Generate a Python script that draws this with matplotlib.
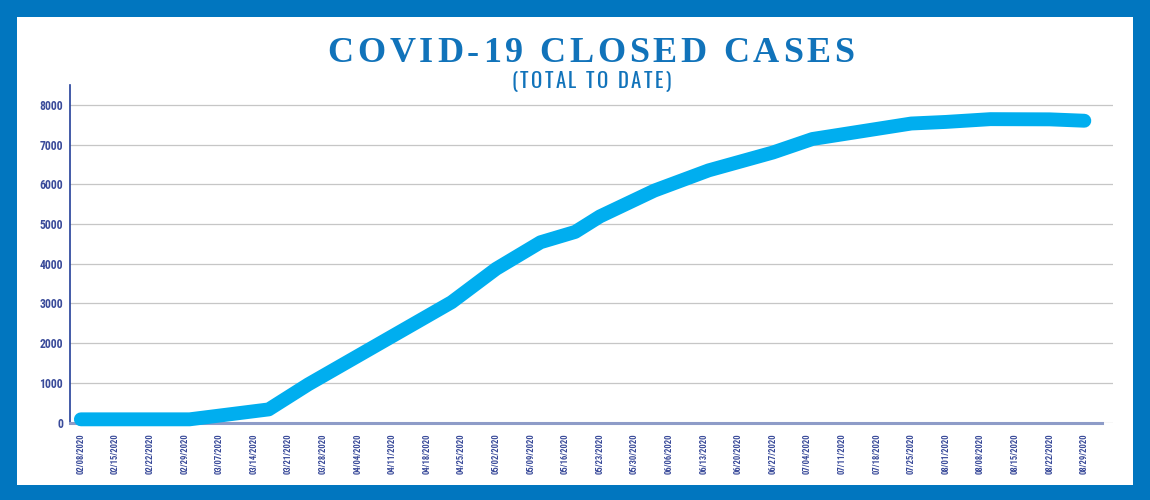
import matplotlib
matplotlib.use("Agg")
import matplotlib.pyplot as plt
import matplotlib.dates as mdates
from matplotlib.patches import Rectangle
import pandas as pd

# ---------------- data ----------------
title = "COVID-19 CLOSED CASES"
subtitle = "(TOTAL TO DATE)"

point_dates = ["2020-02-08", "2020-03-01", "2020-03-17", "2020-03-25", "2020-04-23",
               "2020-05-02", "2020-05-11", "2020-05-18", "2020-05-23", "2020-06-03",
               "2020-06-14", "2020-06-27", "2020-07-05", "2020-07-25", "2020-08-01",
               "2020-08-10", "2020-08-22", "2020-08-29"]
closed_cases = [80, 80, 330, 960, 3030,
                3870, 4540, 4800, 5190, 5840,
                6350, 6800, 7140, 7530, 7570,
                7640, 7635, 7600]

tick_dates = ["2020-02-08", "2020-02-15", "2020-02-22", "2020-02-29", "2020-03-07",
              "2020-03-14", "2020-03-21", "2020-03-28", "2020-04-04", "2020-04-11",
              "2020-04-18", "2020-04-25", "2020-05-02", "2020-05-09", "2020-05-16",
              "2020-05-23", "2020-05-30", "2020-06-06", "2020-06-13", "2020-06-20",
              "2020-06-27", "2020-07-04", "2020-07-11", "2020-07-18", "2020-07-25",
              "2020-08-01", "2020-08-08", "2020-08-15", "2020-08-22", "2020-08-29"]
tick_labels = ["02/08/2020", "02/15/2020", "02/22/2020", "02/29/2020", "03/07/2020",
               "03/14/2020", "03/21/2020", "03/28/2020", "04/04/2020", "04/11/2020",
               "04/18/2020", "04/25/2020", "05/02/2020", "05/09/2020", "05/16/2020",
               "05/23/2020", "05/30/2020", "06/06/2020", "06/13/2020", "06/20/2020",
               "06/27/2020", "07/04/2020", "07/11/2020", "07/18/2020", "07/25/2020",
               "08/01/2020", "08/08/2020", "08/15/2020", "08/22/2020", "08/29/2020"]
y_ticks = [0, 1000, 2000, 3000, 4000, 5000, 6000, 7000, 8000]

# ---------------- style ----------------
BORDER = "#0176BF"
LINE = "#00AEEF"
TITLE_C = "#1173BA"
TICK_C = "#3A4B9A"
TICKFONT = ["Roboto Condensed", "DejaVu Sans"]
SUBFONT = ["Oswald", "Roboto Condensed", "DejaVu Sans"]
SERIF = ["Liberation Serif", "DejaVu Serif"]
W, H = 1150, 500

fig = plt.figure(figsize=(W / 100, H / 100), dpi=100, facecolor=BORDER)
fig.patches.append(Rectangle((16.7 / W, 14.6 / H), 1116.6 / W, 468.7 / H,
                             transform=fig.transFigure, facecolor="white",
                             edgecolor="none", zorder=-10))

ax = fig.add_axes([70 / W, 77.5 / H, 1043 / W, 337.5 / H])
ax.set_facecolor("none")

xd = mdates.date2num(pd.to_datetime(point_dates))
xt = mdates.date2num(pd.to_datetime(tick_dates))
x0 = xt[0]

ax.plot(xd, closed_cases, color=LINE, lw=10, solid_capstyle="round",
        solid_joinstyle="round", zorder=4, clip_on=False)

ax.set_xlim(x0 - 2.2, x0 + 208.8)
ax.set_ylim(0, 8500)
ax.set_yticks(y_ticks)
ax.set_yticklabels([str(v) for v in y_ticks])
ax.set_xticks(xt)
ax.set_xticklabels(tick_labels, rotation=90)

for s in ["top", "right"]:
    ax.spines[s].set_visible(False)
ax.spines["left"].set_color("#23409A")
ax.spines["left"].set_linewidth(1.2)
ax.spines["bottom"].set_color("#8E9CC8")
ax.spines["bottom"].set_linewidth(2.2)
ax.spines["bottom"].set_bounds(x0 - 2.2, x0 + 206.5)

ax.yaxis.grid(True, color="#C6C6C6", lw=0.9)
ax.set_axisbelow(True)
ax.tick_params(axis="both", length=0)
ax.tick_params(axis="y", pad=5)
ax.tick_params(axis="x", pad=8)
for lab in ax.get_yticklabels():
    lab.set_fontfamily(TICKFONT)
    lab.set_fontsize(8.5)
    lab.set_fontweight("bold")
    lab.set_color(TICK_C)
for lab in ax.get_xticklabels():
    lab.set_fontfamily(TICKFONT)
    lab.set_fontsize(6.2)
    lab.set_fontweight("bold")
    lab.set_color(TICK_C)


def tracked_text(s, xc_px, y_frac, target_w, **kw):
    renderer = fig.canvas.get_renderer()

    def width(txt):
        t = fig.text(0, 0, txt, **kw)
        w = t.get_window_extent(renderer).width
        t.remove()
        return w

    base = width("HH")
    widths = [width("H" + c + "H") - base for c in s]
    tracking = max(0.0, (target_w - sum(widths)) / (len(s) - 1))
    total = sum(widths) + tracking * (len(s) - 1)
    x = xc_px - total / 2
    for c, cw in zip(s, widths):
        if c != " ":
            fig.text(x / W, y_frac, c, ha="left", va="baseline", **kw)
        x += cw + tracking


tracked_text(title, 591, (H - 62.5) / H, 527, family=SERIF,
             fontsize=26, fontweight="bold", color=TITLE_C)
tracked_text(subtitle, 591, (H - 88.5) / H, 159, family=SUBFONT,
             fontsize=15, fontweight="light", color=TITLE_C)

fig.savefig("out.png", dpi=100, facecolor=BORDER)
